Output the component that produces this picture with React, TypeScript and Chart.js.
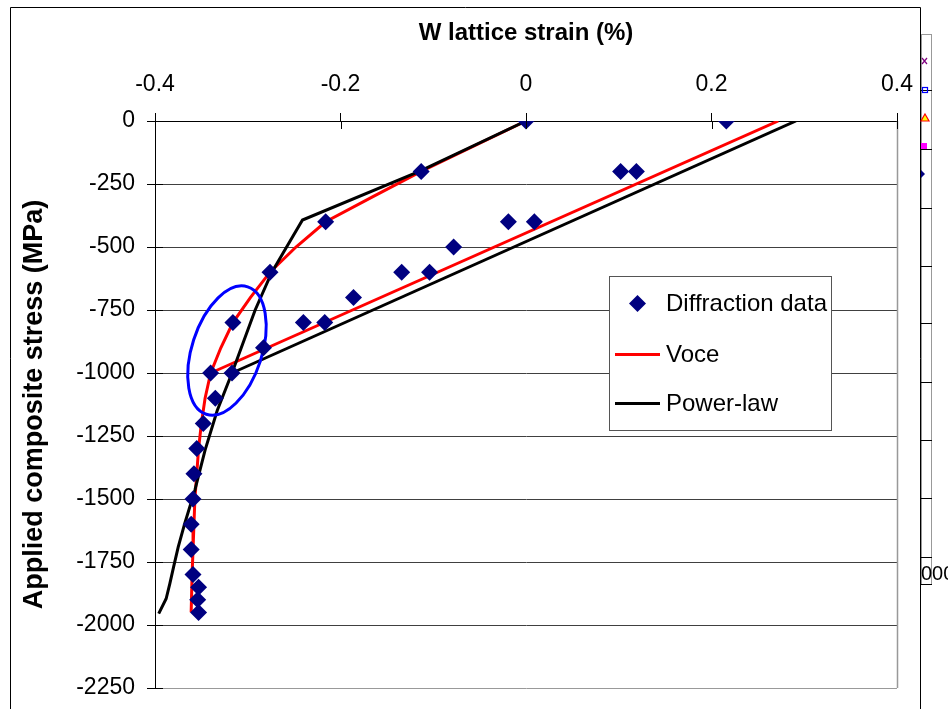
import React, { useEffect, useRef } from "react";
import { Chart, registerables } from "chart.js";

Chart.register(...registerables);

const FONT = "'Liberation Sans', Arial, Helvetica, sans-serif";

// Axis ticks
const xTicks = [-0.4, -0.2, 0, 0.2, 0.4];
const xTickLabels = ["-0.4", "-0.2", "0", "0.2", "0.4"];
const yTicks = [0, -250, -500, -750, -1000, -1250, -1500, -1750, -2000, -2250];
const yTickLabels = ["0", "-250", "-500", "-750", "-1000", "-1250", "-1500", "-1750", "-2000", "-2250"];

// Diffraction data (W lattice strain %, applied composite stress MPa)
const diffractionStrain = [
  0, -0.113, -0.216, -0.276, -0.316, -0.340, -0.317, -0.283, -0.240, -0.217,
  -0.186, -0.134, -0.104, -0.078, -0.019, 0.009, 0.102, 0.119, 0.216,
  -0.335, -0.348, -0.355, -0.358, -0.359, -0.361, -0.361, -0.359, -0.353, -0.354, -0.353,
];
const diffractionStress = [
  0, -200, -400, -600, -800, -1000, -1000, -900, -800, -800,
  -700, -600, -600, -500, -400, -400, -200, -200, 0,
  -1100, -1200, -1300, -1400, -1500, -1600, -1700, -1800, -1850, -1900, -1950,
];

// Voce model
const voceLoadStrain = [0, -0.113, -0.165, -0.216, -0.248, -0.276, -0.297, -0.316, -0.329, -0.340];
const voceLoadStress = [0, -200, -300, -400, -500, -600, -700, -800, -900, -1000];
const voceUnloadStrain = [-0.340, 0.272];
const voceUnloadStress = [-1000, 0];
const voceReloadStrain = [-0.340, -0.346, -0.350, -0.353, -0.355, -0.357, -0.358, -0.359, -0.360, -0.361];
const voceReloadStress = [-1000, -1100, -1200, -1300, -1400, -1500, -1600, -1700, -1800, -1950];

// Power-law model
const powerLoadStrain = [0, -0.115, -0.241, -0.260, -0.274, -0.292, -0.317];
const powerLoadStress = [0, -200, -393, -512, -600, -750, -1000];
const powerUnloadStrain = [-0.317, 0.291];
const powerUnloadStress = [-1000, 0];
const powerReloadStrain = [-0.317, -0.333, -0.346, -0.357, -0.368, -0.375, -0.380, -0.384, -0.388, -0.396];
const powerReloadStress = [-1000, -1150, -1306, -1465, -1598, -1691, -1770, -1836, -1896, -1955];

// Highlight ellipse (annotation) centre in data units
const ellipseCenterStrain = -0.3224;
const ellipseCenterStress = -911;

const legendLabels = ["Diffraction data", "Voce", "Power-law"];

const pts = (xs: number[], ys: number[]) => xs.map((x, i) => ({ x, y: ys[i] }));

const lineDs = (label: string, xs: number[], ys: number[], color: string) => ({
  label,
  data: pts(xs, ys),
  showLine: true,
  borderColor: color,
  backgroundColor: color,
  borderWidth: 3,
  pointRadius: 0,
  pointHoverRadius: 0,
  tension: 0,
  fill: false,
});

const decorPlugin = {
  id: "decor",
  beforeDraw(chart: any) {
    const ctx = chart.ctx;
    ctx.save();
    ctx.fillStyle = "#ffffff";
    ctx.fillRect(0, 0, chart.width, chart.height);
    ctx.restore();
  },
  afterDatasetDraw(chart: any, args: any) {
    if (args.index !== 1) return;
    const ctx = chart.ctx;
    const cx = chart.scales.x.getPixelForValue(ellipseCenterStrain);
    const cy = chart.scales.y.getPixelForValue(ellipseCenterStress);
    ctx.save();
    ctx.strokeStyle = "#0000ff";
    ctx.lineWidth = 3;
    ctx.beginPath();
    ctx.ellipse(cx, cy, 35, 67, (18 * Math.PI) / 180, 0, Math.PI * 2);
    ctx.stroke();
    ctx.restore();
  },
  afterDraw(chart: any) {
    const ctx = chart.ctx;
    const area = chart.chartArea;
    const xs = chart.scales.x;
    const ys = chart.scales.y;
    ctx.save();

    // plot-area right border (grey)
    ctx.strokeStyle = "#999999";
    ctx.lineWidth = 1.5;
    ctx.beginPath();
    ctx.moveTo(Math.round(area.right) + 0.5, area.top);
    ctx.lineTo(Math.round(area.right) + 0.5, area.bottom);
    ctx.stroke();

    // inner halves of crossing tick marks
    ctx.strokeStyle = "#000000";
    ctx.lineWidth = 1;
    ctx.beginPath();
    xTicks.forEach((v) => {
      const px = Math.round(xs.getPixelForValue(v)) + 0.5;
      ctx.moveTo(px, area.top);
      ctx.lineTo(px, area.top + 8);
    });
    yTicks.forEach((v) => {
      const py = Math.round(ys.getPixelForValue(v)) + 0.5;
      ctx.moveTo(area.left, py);
      ctx.lineTo(area.left + 8, py);
    });
    ctx.stroke();

    // outer chart frame
    ctx.strokeStyle = "#000000";
    ctx.lineWidth = 1;
    ctx.beginPath();
    ctx.moveTo(10.5, chart.height);
    ctx.lineTo(10.5, 7.5);
    ctx.lineTo(920.5, 7.5);
    ctx.lineTo(920.5, chart.height);
    ctx.stroke();

    // fragment of a neighbouring chart at right edge
    ctx.strokeStyle = "#999999";
    ctx.strokeRect(921.5, 34.5, 10, 550);
    ctx.strokeStyle = "#000000";
    ctx.beginPath();
    [90, 149, 208, 266, 323, 382, 440, 498, 557, 584].forEach((y) => {
      ctx.moveTo(921, y + 0.5);
      ctx.lineTo(932, y + 0.5);
    });
    ctx.stroke();
    // small marker fragments
    ctx.strokeStyle = "#800080";
    ctx.lineWidth = 1.2;
    ctx.beginPath();
    ctx.moveTo(922, 58);
    ctx.lineTo(927, 64);
    ctx.moveTo(927, 58);
    ctx.lineTo(922, 64);
    ctx.stroke();
    ctx.strokeStyle = "#0000ff";
    ctx.strokeRect(922.5, 87.5, 5, 5);
    ctx.fillStyle = "#ffff00";
    ctx.strokeStyle = "#ff0000";
    ctx.beginPath();
    ctx.moveTo(925, 114);
    ctx.lineTo(929, 121);
    ctx.lineTo(921, 121);
    ctx.closePath();
    ctx.fill();
    ctx.stroke();
    ctx.fillStyle = "#ff00ff";
    ctx.fillRect(921, 143, 6, 6);
    ctx.fillStyle = "#000080";
    ctx.beginPath();
    ctx.moveTo(921, 170);
    ctx.lineTo(925, 174);
    ctx.lineTo(921, 178);
    ctx.closePath();
    ctx.fill();
    ctx.fillStyle = "#000000";
    ctx.font = `20px ${FONT}`;
    ctx.textBaseline = "alphabetic";
    ctx.textAlign = "left";
    ctx.fillText("000", 921, 580);

    // legend
    const lx = 609, ly = 276, lw = 223, lh = 155;
    ctx.fillStyle = "#ffffff";
    ctx.fillRect(lx, ly, lw, lh);
    ctx.strokeStyle = "#555555";
    ctx.lineWidth = 1;
    ctx.strokeRect(lx + 0.5, ly + 0.5, lw - 1, lh - 1);

    ctx.fillStyle = "#000080";
    ctx.beginPath();
    ctx.moveTo(637.5, 303.5 - 8.5);
    ctx.lineTo(637.5 + 8.5, 303.5);
    ctx.lineTo(637.5, 303.5 + 8.5);
    ctx.lineTo(637.5 - 8.5, 303.5);
    ctx.closePath();
    ctx.fill();

    ctx.lineWidth = 3;
    ctx.strokeStyle = "#ff0000";
    ctx.beginPath();
    ctx.moveTo(615, 354.5);
    ctx.lineTo(660, 354.5);
    ctx.stroke();
    ctx.strokeStyle = "#000000";
    ctx.beginPath();
    ctx.moveTo(615, 403.5);
    ctx.lineTo(660, 403.5);
    ctx.stroke();

    ctx.fillStyle = "#000000";
    ctx.font = `24px ${FONT}`;
    ctx.fillText(legendLabels[0], 666, 311);
    ctx.fillText(legendLabels[1], 666, 362);
    ctx.fillText(legendLabels[2], 666, 411);

    ctx.restore();
  },
};

export default function App() {
  const ref = useRef<HTMLCanvasElement>(null);

  useEffect(() => {
    if (!ref.current) return;
    const chart = new Chart(ref.current, {
      type: "scatter",
      data: {
        datasets: [
          {
            label: "Diffraction data",
            data: pts(diffractionStrain, diffractionStress),
            showLine: false,
            pointStyle: "rectRot",
            pointRadius: 8.5,
            pointHoverRadius: 8.5,
            pointBackgroundColor: "#000080",
            pointBorderColor: "#000080",
            pointBorderWidth: 0,
          },
          lineDs("Power-law", powerLoadStrain, powerLoadStress, "#000000"),
          lineDs("Power-law unload", powerUnloadStrain, powerUnloadStress, "#000000"),
          lineDs("Power-law reload", powerReloadStrain, powerReloadStress, "#000000"),
          lineDs("Voce", voceLoadStrain, voceLoadStress, "#ff0000"),
          lineDs("Voce unload", voceUnloadStrain, voceUnloadStress, "#ff0000"),
          lineDs("Voce reload", voceReloadStrain, voceReloadStress, "#ff0000"),
        ] as any,
      },
      options: {
        animation: false,
        responsive: false,
        maintainAspectRatio: false,
        devicePixelRatio: 1,
        events: [],
        layout: { padding: { left: 0, right: 51, top: 0, bottom: 21 } },
        plugins: {
          legend: { display: false },
          tooltip: { enabled: false },
        },
        scales: {
          x: {
            type: "linear",
            position: "top",
            min: -0.4,
            max: 0.4,
            afterBuildTicks: (s: any) => {
              s.ticks = xTicks.map((v) => ({ value: v }));
            },
            afterFit: (s: any) => {
              s.height = 121;
              s.paddingLeft = 0;
              s.paddingRight = 0;
            },
            ticks: {
              font: { family: FONT, size: 23 },
              color: "#000000",
              padding: 15,
              maxRotation: 0,
              autoSkip: false,
              callback: (v: any) => {
                const i = xTicks.findIndex((t) => Math.abs(t - Number(v)) < 1e-9);
                return i >= 0 ? xTickLabels[i] : "";
              },
            },
            grid: {
              drawOnChartArea: false,
              drawTicks: true,
              tickLength: 8,
              color: "#000000",
              lineWidth: 1,
            },
            border: { display: true, color: "#000000", width: 1 },
            title: {
              display: true,
              text: "W lattice strain (%)",
              color: "#000000",
              font: { family: FONT, size: 24, weight: "bold" },
              padding: { top: 19, bottom: 0 },
            },
          },
          y: {
            type: "linear",
            min: -2250,
            max: 0,
            afterBuildTicks: (s: any) => {
              s.ticks = [...yTicks].sort((a, b) => a - b).map((v) => ({ value: v }));
            },
            afterFit: (s: any) => {
              s.width = 155;
              s.paddingTop = 0;
              s.paddingBottom = 0;
            },
            ticks: {
              font: { family: FONT, size: 23 },
              color: "#000000",
              padding: 12,
              autoSkip: false,
              callback: (v: any) => {
                const i = yTicks.findIndex((t) => Math.abs(t - Number(v)) < 1e-6);
                return i >= 0 ? yTickLabels[i] : "";
              },
            },
            grid: {
              color: (c: any) => (c.tick && c.tick.value === -2250 ? "#999999" : "#404040"),
              tickColor: "#000000",
              tickLength: 8,
              lineWidth: 1,
            },
            border: { display: true, color: "#000000", width: 1 },
            title: {
              display: true,
              text: "Applied composite stress (MPa)",
              color: "#000000",
              font: { family: FONT, size: 27, weight: "bold" },
              padding: { top: 18, bottom: 0 },
            },
          },
        },
      } as any,
      plugins: [decorPlugin],
    });
    return () => chart.destroy();
  }, []);

  return (
    <div style={{ position: "fixed", left: 0, top: 0, width: 948, height: 709, background: "#ffffff" }}>
      <canvas ref={ref} width={948} height={709} style={{ display: "block", width: 948, height: 709 }} />
    </div>
  );
}
